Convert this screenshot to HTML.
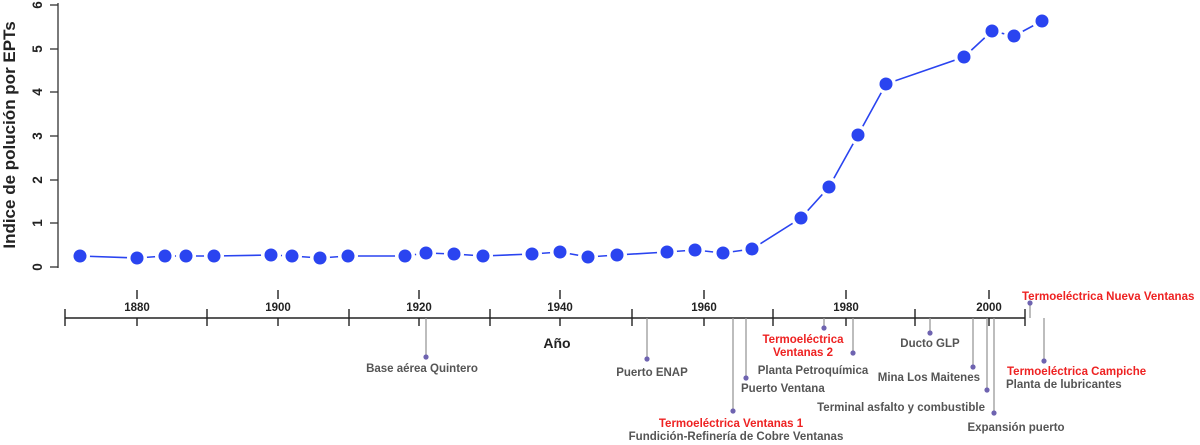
<!DOCTYPE html>
<html><head><meta charset="utf-8"><style>
html,body{margin:0;padding:0;background:#fff;}
svg{display:block;font-family:"Liberation Sans",Arial,sans-serif;}
.t{font-size:11.5px;font-weight:bold;fill:#555;}
.r{font-size:11.5px;font-weight:bold;fill:#ee2222;}
.y{font-size:11.5px;font-weight:bold;fill:#222;}
</style></head><body>
<svg width="1200" height="445" viewBox="0 0 1200 445">
<g stroke="#333" stroke-width="1.3" fill="none">
<line x1="58" y1="3" x2="58" y2="268"/>
<line x1="50" y1="267" x2="58" y2="267"/>
<line x1="50" y1="223" x2="58" y2="223"/>
<line x1="50" y1="180" x2="58" y2="180"/>
<line x1="50" y1="136" x2="58" y2="136"/>
<line x1="50" y1="92" x2="58" y2="92"/>
<line x1="50" y1="49" x2="58" y2="49"/>
<line x1="50" y1="5" x2="58" y2="5"/>
</g>
<g font-size="13.5" font-weight="bold" fill="#222">
<text transform="translate(42,267) rotate(-90)" text-anchor="middle">0</text>
<text transform="translate(42,223) rotate(-90)" text-anchor="middle">1</text>
<text transform="translate(42,180) rotate(-90)" text-anchor="middle">2</text>
<text transform="translate(42,136) rotate(-90)" text-anchor="middle">3</text>
<text transform="translate(42,92) rotate(-90)" text-anchor="middle">4</text>
<text transform="translate(42,49) rotate(-90)" text-anchor="middle">5</text>
<text transform="translate(42,5) rotate(-90)" text-anchor="middle">6</text>
</g>
<text transform="translate(15,135) rotate(-90)" text-anchor="middle" font-size="17" font-weight="bold" fill="#222">Indice de polución por EPTs</text>

<polyline fill="none" stroke="#2a44f0" stroke-width="1.6" points="80,256 137,258 165,256 186,256 214,256 271,255 292,256 320,258 348,256 405,256 426,253 454,254 483,256 532,254 560,252 588,257 617,255 667,252 695,250 723,253 752,249 801,218 829,187 858,135 886,84 964,57 992,31 1014,36 1042,21"/>
<g fill="#fff">
<circle cx="80" cy="256" r="10"/><circle cx="137" cy="258" r="10"/><circle cx="165" cy="256" r="10"/><circle cx="186" cy="256" r="10"/><circle cx="214" cy="256" r="10"/><circle cx="271" cy="255" r="10"/><circle cx="292" cy="256" r="10"/><circle cx="320" cy="258" r="10"/><circle cx="348" cy="256" r="10"/><circle cx="405" cy="256" r="10"/><circle cx="426" cy="253" r="10"/><circle cx="454" cy="254" r="10"/><circle cx="483" cy="256" r="10"/><circle cx="532" cy="254" r="10"/><circle cx="560" cy="252" r="10"/><circle cx="588" cy="257" r="10"/><circle cx="617" cy="255" r="10"/><circle cx="667" cy="252" r="10"/><circle cx="695" cy="250" r="10"/><circle cx="723" cy="253" r="10"/><circle cx="752" cy="249" r="10"/><circle cx="801" cy="218" r="10"/><circle cx="829" cy="187" r="10"/><circle cx="858" cy="135" r="10"/><circle cx="886" cy="84" r="10"/><circle cx="964" cy="57" r="10"/><circle cx="992" cy="31" r="10"/><circle cx="1014" cy="36" r="10"/><circle cx="1042" cy="21" r="10"/>
</g>
<g fill="#2a44f0">
<circle cx="80" cy="256" r="6.5"/><circle cx="137" cy="258" r="6.5"/><circle cx="165" cy="256" r="6.5"/><circle cx="186" cy="256" r="6.5"/><circle cx="214" cy="256" r="6.5"/><circle cx="271" cy="255" r="6.5"/><circle cx="292" cy="256" r="6.5"/><circle cx="320" cy="258" r="6.5"/><circle cx="348" cy="256" r="6.5"/><circle cx="405" cy="256" r="6.5"/><circle cx="426" cy="253" r="6.5"/><circle cx="454" cy="254" r="6.5"/><circle cx="483" cy="256" r="6.5"/><circle cx="532" cy="254" r="6.5"/><circle cx="560" cy="252" r="6.5"/><circle cx="588" cy="257" r="6.5"/><circle cx="617" cy="255" r="6.5"/><circle cx="667" cy="252" r="6.5"/><circle cx="695" cy="250" r="6.5"/><circle cx="723" cy="253" r="6.5"/><circle cx="752" cy="249" r="6.5"/><circle cx="801" cy="218" r="6.5"/><circle cx="829" cy="187" r="6.5"/><circle cx="858" cy="135" r="6.5"/><circle cx="886" cy="84" r="6.5"/><circle cx="964" cy="57" r="6.5"/><circle cx="992" cy="31" r="6.5"/><circle cx="1014" cy="36" r="6.5"/><circle cx="1042" cy="21" r="6.5"/>
</g>

<g stroke="#222" stroke-width="1.4">
<line x1="65" y1="318" x2="1025" y2="318"/>
<line x1="65" y1="309" x2="65" y2="326"/>
<line x1="207" y1="309" x2="207" y2="326"/>
<line x1="349" y1="309" x2="349" y2="326"/>
<line x1="490" y1="309" x2="490" y2="326"/>
<line x1="632" y1="309" x2="632" y2="326"/>
<line x1="773" y1="309" x2="773" y2="326"/>
<line x1="915" y1="309" x2="915" y2="326"/>
<line x1="1025" y1="309" x2="1025" y2="326"/>
<line x1="137" y1="290" x2="137" y2="299"/><line x1="137" y1="318" x2="137" y2="326"/>
<line x1="278" y1="290" x2="278" y2="299"/><line x1="278" y1="318" x2="278" y2="326"/>
<line x1="419" y1="290" x2="419" y2="299"/><line x1="419" y1="318" x2="419" y2="326"/>
<line x1="560" y1="290" x2="560" y2="299"/><line x1="560" y1="318" x2="560" y2="326"/>
<line x1="704" y1="290" x2="704" y2="299"/><line x1="704" y1="318" x2="704" y2="326"/>
<line x1="846" y1="290" x2="846" y2="299"/><line x1="846" y1="318" x2="846" y2="326"/>
<line x1="989" y1="290" x2="989" y2="299"/><line x1="989" y1="318" x2="989" y2="326"/>
</g>
<g class="y" text-anchor="middle">
<text x="137" y="311">1880</text><text x="278" y="311">1900</text><text x="419" y="311">1920</text>
<text x="560" y="311">1940</text><text x="704" y="311">1960</text><text x="846" y="311">1980</text><text x="989" y="311">2000</text>
</g>
<text x="557" y="348" text-anchor="middle" font-size="14" font-weight="bold" fill="#222">Año</text>

<g stroke="#999" stroke-width="1.3">
<line x1="426" y1="318" x2="426" y2="357"/>
<line x1="647" y1="318" x2="647" y2="359"/>
<line x1="733" y1="318" x2="733" y2="411"/>
<line x1="746" y1="318" x2="746" y2="378"/>
<line x1="824" y1="318" x2="824" y2="328"/>
<line x1="853" y1="318" x2="853" y2="353"/>
<line x1="930" y1="318" x2="930" y2="333"/>
<line x1="973" y1="318" x2="973" y2="367"/>
<line x1="987" y1="318" x2="987" y2="390"/>
<line x1="994" y1="318" x2="994" y2="413"/>
<line x1="1030" y1="303" x2="1030" y2="318"/>
<line x1="1044" y1="318" x2="1044" y2="361"/>
</g>
<g fill="#6e63b0">
<circle cx="426" cy="357" r="2.6"/><circle cx="647" cy="359" r="2.6"/><circle cx="733" cy="411" r="2.6"/>
<circle cx="746" cy="378" r="2.6"/><circle cx="824" cy="328" r="2.6"/><circle cx="853" cy="353" r="2.6"/>
<circle cx="930" cy="333" r="2.6"/><circle cx="973" cy="367" r="2.6"/><circle cx="987" cy="390" r="2.6"/>
<circle cx="994" cy="413" r="2.6"/><circle cx="1030" cy="303" r="2.6"/><circle cx="1044" cy="361" r="2.6"/>
</g>
<g class="t">
<text x="422" y="372" text-anchor="middle">Base aérea Quintero</text>
<text x="652" y="376" text-anchor="middle">Puerto ENAP</text>
<text x="736" y="440" text-anchor="middle">Fundición-Refinería de Cobre Ventanas</text>
<text x="741" y="392">Puerto Ventana</text>
<text x="813" y="374" text-anchor="middle">Planta Petroquímica</text>
<text x="930" y="347" text-anchor="middle">Ducto GLP</text>
<text x="980" y="381" text-anchor="end">Mina Los Maitenes</text>
<text x="985" y="411" text-anchor="end">Terminal asfalto y combustible</text>
<text x="1016" y="431" text-anchor="middle">Expansión puerto</text>
<text x="1006" y="388">Planta de lubricantes</text>
</g>
<g class="r">
<text x="731" y="427" text-anchor="middle">Termoeléctrica Ventanas 1</text>
<text x="803" y="343" text-anchor="middle">Termoeléctrica</text>
<text x="803" y="356" text-anchor="middle">Ventanas 2</text>
<text x="1022" y="300">Termoeléctrica Nueva Ventanas</text>
<text x="1007" y="375">Termoeléctrica Campiche</text>
</g>
</svg>
</body></html>
